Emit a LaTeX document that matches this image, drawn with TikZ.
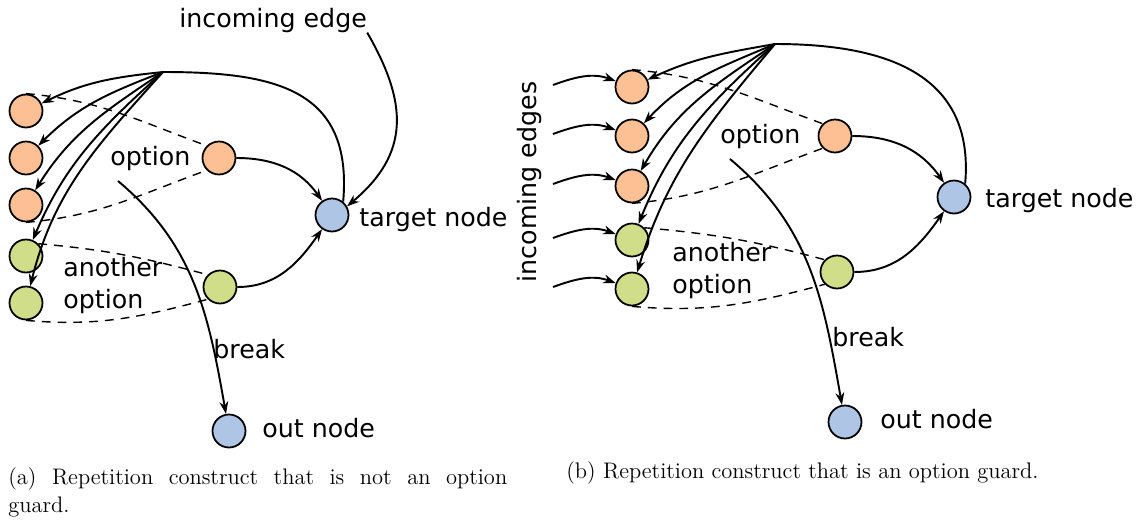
\documentclass[tikz,border=0pt]{standalone}
\usepackage{fontspec}
\setsansfont{DejaVu Sans}
\usetikzlibrary{arrows.meta}
\definecolor{peach}{RGB}{253,191,148}
\definecolor{lime}{RGB}{208,222,138}
\definecolor{skyblue}{RGB}{174,197,230}

\begin{document}
\begin{tikzpicture}[x=0.02cm,y=-0.02cm,
	state/.style={shape=circle,draw=black,line width=1pt,minimum size=0.66cm,inner sep=0pt},
	lbl/.style={font=\sffamily\fontsize{14.4}{18}\selectfont,anchor=base west,inner sep=0pt,align=left},
	subcap/.style={font=\fontsize{12.8}{16}\selectfont,anchor=base west,inner sep=0pt},
	arc/.style={line width=1.1pt,-{Stealth[length=7pt,width=5pt]}},
	grp/.style={line width=0.8pt,dash pattern=on 5pt off 4pt}]
	\useasboundingbox (0,0) rectangle (1146,521);

	\node[state,fill=peach] (a1) at (26,111) {};
	\node[state,fill=peach] (a2) at (26,158) {};
	\node[state,fill=peach] (a3) at (26,205) {};
	\node[state,fill=lime] (a4) at (26,256) {};
	\node[state,fill=lime] (a5) at (26,303) {};
	\node[state,fill=peach] (aopt) at (219,158) {};
	\node[state,fill=lime] (aalt) at (220,287) {};
	\node[state,fill=skyblue] (atgt) at (332,215) {};
	\node[state,fill=skyblue] (aout) at (229,431) {};
	\coordinate (ahub) at (163,72);
	\coordinate (abrk) at (118,181);

	\node[lbl] (ain) at (179,27) {incoming edge};
	\node[lbl] (atgtlbl) at (359,226) {target node};
	\node[lbl] (aoptlbl) at (110,165) {option};
	\node[lbl] (aaltlbl) at (63,308) {another\\option};
	\node[lbl] (abrklbl) at (213,358) {break};
	\node[lbl] (aoutlbl) at (262,437) {out node};
	\node[subcap,text width=9.98cm,align=justify] (acap) at (8,484) {(a) Repetition construct that is not an option\linebreak guard.};

	\draw[arc] (ahub) to[out=186,in=26] (a1);
	\draw[arc] (ahub) to[out=201,in=45] (a2);
	\draw[arc] (ahub) to[out=214,in=58] (a3);
	\draw[arc] (ahub) to[out=222,in=67] (a4);
	\draw[arc] (ahub) to[out=228,in=76] (a5);
	\draw[line width=1.1pt] (atgt.50) to[out=85,in=0,looseness=1.3] (ahub);
	\draw[arc] (ain.south east) to[out=-60,in=40,looseness=1.2] (atgt.30);
	\draw[arc] (aopt) to[out=0,in=125] (atgt);
	\draw[arc] (aalt) to[out=0,in=235] (atgt);
	\draw[arc] (abrk) to[out=-40,in=100] (aout);
	\draw[grp] (a1.north) to[out=-5,in=160] (aopt.north west);
	\draw[grp] (a3.south) to[out=5,in=200] (aopt.south west);
	\draw[grp] (a4.north east) to[out=-5,in=165] (aalt.north west);
	\draw[grp] (a5.south) to[out=-5,in=195] (aalt.south west);

	\node[state,fill=peach] (b1) at (632,87) {};
	\node[state,fill=peach] (b2) at (632,136) {};
	\node[state,fill=peach] (b3) at (632,186) {};
	\node[state,fill=lime] (b4) at (632,240) {};
	\node[state,fill=lime] (b5) at (632,289) {};
	\node[state,fill=peach] (bopt) at (835,136) {};
	\node[state,fill=lime] (balt) at (837,272) {};
	\node[state,fill=skyblue] (btgt) at (954,197) {};
	\node[state,fill=skyblue] (bout) at (845,422) {};
	\coordinate (bhub) at (775,44);
	\coordinate (bbrk) at (730,159);
	\coordinate (e1) at (553,85);
	\coordinate (e2) at (553,134);
	\coordinate (e3) at (553,184);
	\coordinate (e4) at (553,238);
	\coordinate (e5) at (553,287);

	\node[lbl,rotate=90,anchor=center] (binlbl) at (530,182) {incoming edges};
	\node[lbl] (btgtlbl) at (985,207) {target node};
	\node[lbl] (boptlbl) at (720,143) {option};
	\node[lbl] (baltlbl) at (672,293) {another\\option};
	\node[lbl] (bbrklbl) at (832,346) {break};
	\node[lbl] (boutlbl) at (880,428) {out node};
	\node[subcap] (bcap) at (566,478) {(b) Repetition construct that is an option guard.};

	\draw[arc] (e1) to[out=20,in=160] (b1);
	\draw[arc] (e2) to[out=20,in=160] (b2);
	\draw[arc] (e3) to[out=20,in=160] (b3);
	\draw[arc] (e4) to[out=20,in=160] (b4);
	\draw[arc] (e5) to[out=20,in=160] (b5);
	\draw[arc] (bhub) to[out=190,in=25] (b1);
	\draw[arc] (bhub) to[out=203,in=47] (b2);
	\draw[arc] (bhub) to[out=214,in=60] (b3);
	\draw[arc] (bhub) to[out=222,in=68] (b4);
	\draw[arc] (bhub) to[out=230,in=73] (b5);
	\draw[line width=1.1pt] (btgt.50) to[out=85,in=0,looseness=1.2] (bhub);
	\draw[arc] (bopt) to[out=0,in=125] (btgt);
	\draw[arc] (balt) to[out=0,in=235] (btgt);
	\draw[arc] (bbrk) to[out=-40,in=100] (bout);
	\draw[grp] (b1.north) to[out=-5,in=160] (bopt.north west);
	\draw[grp] (b3.south) to[out=5,in=200] (bopt.south west);
	\draw[grp] (b4.north east) to[out=-5,in=165] (balt.north west);
	\draw[grp] (b5.south) to[out=-5,in=195] (balt.south west);
\end{tikzpicture}
\end{document}
